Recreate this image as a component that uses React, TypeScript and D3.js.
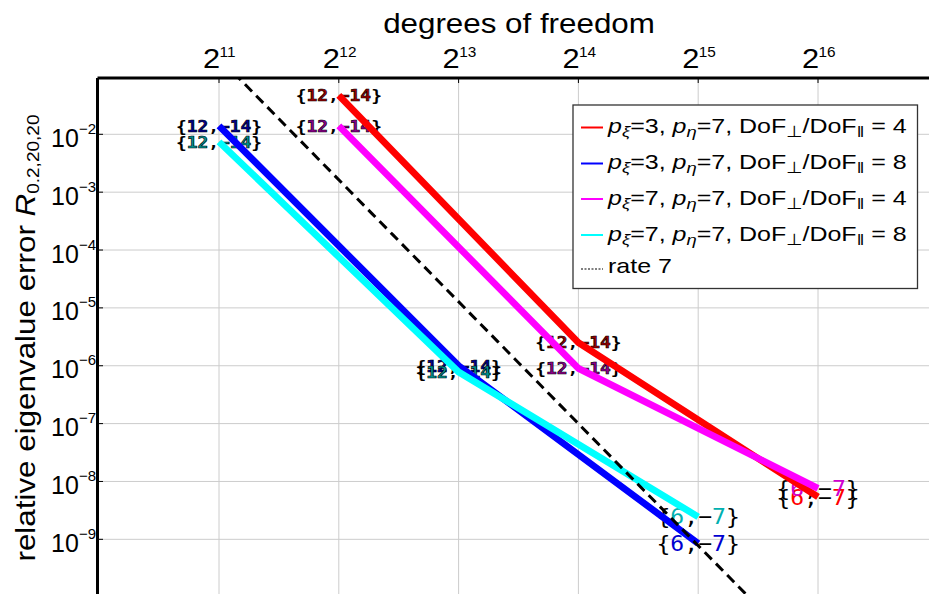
import React from "react";
import * as d3 from "d3";

// ---- data -------------------------------------------------------------
const SERIES_NAMES = ["red", "blue", "magenta", "cyan"];
const SERIES_COLORS = ["#ff0000", "#0000ff", "#ff00ff", "#00ffff"];
const LABEL_DARK = ["#990000", "#000090", "#900090", "#009090"];
const LABEL_BRIGHT = ["#ff0000", "#0000d0", "#d000d0", "#00b0b0"];

// degrees of freedom (as powers of two) for each series
const DOF_EXP = [
  [12, 14, 16],
  [11, 13, 15],
  [12, 14, 16],
  [11, 13, 15],
];
// relative eigenvalue error for each series
const ERRORS = [
  [4.7e-2, 2.5e-6, 5.4e-9],
  [1.4e-2, 1.0e-6, 8.5e-10],
  [1.4e-2, 9.0e-7, 7.6e-9],
  [7.4e-3, 7.8e-7, 2.45e-9],
];
// point annotations
const POINT_LABELS = [
  ["{12,−14}", "{12,−14}", "{6,−7}"],
  ["{12,−14}", "{12,−14}", "{6,−7}"],
  ["{12,−14}", "{12,−14}", "{6,−7}"],
  ["{12,−14}", "{12,−14}", "{6,−7}"],
];
// legend parameters
const P_XI = [3, 3, 7, 7];
const P_ETA = [7, 7, 7, 7];
const DOF_RATIO = [4, 8, 4, 8];

// reference slope line: err = C * DoF^-7
const RATE_ORDER = 7;
const RATE_LOG10_C = 22.5;

const X_TICK_EXP = [11, 12, 13, 14, 15, 16];
const Y_TICK_EXP = [-2, -3, -4, -5, -6, -7, -8, -9];

// ---- layout -----------------------------------------------------------
const W = 929;
const H = 594;
const LEFT = 99;
const TOP = 78;
const SANS = "'Liberation Sans', Arial, sans-serif";
const MONO = "'DejaVu Sans Mono', monospace";
// the typeface used here runs slightly wide
const WIDE = 1.1;

const x = d3.scaleLog().base(2).domain([Math.pow(2, 10), Math.pow(2, 17)]).range([99.2, 937.8]);
const y = d3.scaleLog().domain([Math.pow(10, -9.945), Math.pow(10, -1.027)]).range([594, 78]);

const line = d3
  .line<[number, number]>()
  .x((d) => x(d[0]))
  .y((d) => y(d[1]));

function sup(n: number) {
  return n < 0 ? "−" + Math.abs(n) : String(n);
}

function PointLabel({ text, cx, cy, si, end }: { text: string; cx: number; cy: number; si: number; end: boolean }) {
  const chars = text.split("");
  const colored = (c: string) => (end ? /[0-9]/.test(c) : /[0-9−]/.test(c));
  return (
    <g transform={`translate(${cx},${cy}) scale(${end ? 1.1 : 1.12},1)`}>
      <text
        x={0}
        y={0}
        dy="0.36em"
        textAnchor="middle"
        fontFamily={MONO}
        fontSize={end ? 21 : 16}
        fontWeight={end ? 400 : 700}
      >
        {chars.map((c, i) =>
          colored(c) ? (
            <tspan
              key={i}
              fill={end ? LABEL_BRIGHT[si] : LABEL_DARK[si]}
              stroke={end ? "none" : "#000"}
              strokeWidth={end ? 0 : 0.6}
            >
              {c}
            </tspan>
          ) : (
            <tspan key={i} fill="#000">
              {c}
            </tspan>
          )
        )}
      </text>
    </g>
  );
}

export default function App() {
  const xTicks = X_TICK_EXP.map((e) => Math.pow(2, e));
  const yTicks = Y_TICK_EXP.map((e) => Math.pow(10, e));
  const [xd0, xd1] = x.domain();
  const rateFn = (d: number) => Math.pow(10, RATE_LOG10_C - RATE_ORDER * Math.log10(d));
  const rateData: [number, number][] = d3.range(0, 41).map((i) => {
    const d = xd0 * Math.pow(xd1 / xd0, i / 40);
    return [d, rateFn(d)];
  });

  const legendX = 573;
  const legendY = 105;
  const legendRows = [127.5, 163.5, 199, 235, 269];

  return (
    <svg
      width={W}
      height={H}
      style={{ position: "absolute", left: 0, top: 0, background: "#fff" }}
      xmlns="http://www.w3.org/2000/svg"
    >
      <defs>
        <clipPath id="plot-area">
          <rect x={LEFT} y={TOP} width={W - LEFT} height={H - TOP} />
        </clipPath>
      </defs>
      <rect x={0} y={0} width={W} height={H} fill="#fff" />

      {/* grid */}
      <g stroke="#cccccc" strokeWidth={1}>
        {xTicks.map((t) => (
          <line key={t} x1={x(t)} x2={x(t)} y1={TOP} y2={H} />
        ))}
        {yTicks.map((t) => (
          <line key={t} x1={LEFT} x2={W} y1={y(t)} y2={y(t)} />
        ))}
      </g>

      {/* point annotations */}
      <g clipPath="url(#plot-area)">
        {ERRORS.map((errs, si) =>
          errs.map((e, pi) => (
            <PointLabel
              key={si + "-" + pi}
              text={POINT_LABELS[si][pi]}
              cx={x(Math.pow(2, DOF_EXP[si][pi]))}
              cy={y(e)}
              si={si}
              end={pi === errs.length - 1}
            />
          ))
        )}
      </g>

      {/* series */}
      <g clipPath="url(#plot-area)" fill="none">
        {ERRORS.map((errs, si) => (
          <path
            key={SERIES_NAMES[si]}
            d={line(errs.map((e, pi) => [Math.pow(2, DOF_EXP[si][pi]), e]))!}
            stroke={SERIES_COLORS[si]}
            strokeWidth={6.8}
            strokeLinejoin="round"
          />
        ))}
        <path d={line(rateData)!} stroke="#000" strokeWidth={3} strokeDasharray="10,6" />
      </g>

      {/* axes */}
      <line x1={LEFT - 1.5} x2={W} y1={TOP} y2={TOP} stroke="#000" strokeWidth={3} />
      <line x1={LEFT - 1.5} x2={LEFT - 1.5} y1={TOP} y2={H} stroke="#000" strokeWidth={3} />
      <g stroke="#000" strokeWidth={1}>
        {xTicks.map((t) => (
          <line key={t} x1={x(t)} x2={x(t)} y1={TOP} y2={TOP + 5} />
        ))}
        {yTicks.map((t) => (
          <line key={t} x1={LEFT} x2={LEFT + 4} y1={y(t)} y2={y(t)} />
        ))}
      </g>

      {/* x tick labels */}
      <g fontFamily={SANS} fill="#000">
        {X_TICK_EXP.map((e) => (
          <g key={e} transform={`translate(${x(Math.pow(2, e))},0) scale(${WIDE},1)`}>
            <text x={1} y={68.5} fontSize={28} textAnchor="end">
              2
            </text>
            <text x={0.5} y={57} fontSize={14}>
              {e}
            </text>
          </g>
        ))}
      </g>

      {/* y tick labels */}
      <g fontFamily={SANS} fill="#000">
        {Y_TICK_EXP.map((e) => {
          const ty = y(Math.pow(10, e));
          return (
            <text key={e} x={96} y={ty + 12.5} textAnchor="end" fontSize={25}>
              10
              <tspan fontSize={15} dy={-13}>
                {sup(e)}
              </tspan>
            </text>
          );
        })}
      </g>

      {/* titles */}
      <g transform={`translate(519,33) scale(${WIDE},1)`}>
        <text x={0} y={0} textAnchor="middle" fontFamily={SANS} fontSize={28.5}>
          degrees of freedom
        </text>
      </g>
      <g transform={`translate(35,338) rotate(-90) scale(1.12,1)`}>
        <text x={0} y={0} textAnchor="middle" fontFamily={SANS} fontSize={28}>
          relative eigenvalue error{" "}
          <tspan fontStyle="italic">R</tspan>
          <tspan fontSize={17} dy={4}>
            0.2,20,20
          </tspan>
        </text>
      </g>

      {/* legend */}
      <g>
        <rect
          x={legendX}
          y={legendY}
          width={344.5}
          height={183.5}
          fill="#fff"
          stroke="#333"
          strokeWidth={1.3}
        />
        {SERIES_NAMES.map((n, si) => (
          <g key={n}>
            <line
              x1={581}
              x2={603}
              y1={legendRows[si]}
              y2={legendRows[si]}
              stroke={SERIES_COLORS[si]}
              strokeWidth={2}
            />
            <g transform={`translate(608,${legendRows[si] + 5.5}) scale(1.19,1)`}>
              <text x={0} y={0} fontFamily={SANS} fontSize={21} fill="#000">
                <tspan fontStyle="italic">p</tspan>
                <tspan fontSize={15.5} fontStyle="italic" dy={4}>
                  ξ
                </tspan>
                <tspan dy={-4}>{"=" + P_XI[si] + ", "}</tspan>
                <tspan fontStyle="italic">p</tspan>
                <tspan fontSize={15.5} fontStyle="italic" dy={4}>
                  η
                </tspan>
                <tspan dy={-4}>{"=" + P_ETA[si] + ", DoF"}</tspan>
                <tspan fontSize={15.5} dy={4}>
                  ⊥
                </tspan>
                <tspan dy={-4}>/DoF</tspan>
                <tspan fontSize={15.5} dy={4}>
                  ‖
                </tspan>
                <tspan dy={-4}>{" = " + DOF_RATIO[si]}</tspan>
              </text>
            </g>
          </g>
        ))}
        <line
          x1={581}
          x2={603}
          y1={legendRows[4]}
          y2={legendRows[4]}
          stroke="#555"
          strokeWidth={1.5}
          strokeDasharray="2,1.5"
        />
        <g transform={`translate(608,${legendRows[4] + 3.5}) scale(1.19,1)`}>
          <text x={0} y={0} fontFamily={SANS} fontSize={21} fill="#000">
            {"rate " + RATE_ORDER}
          </text>
        </g>
      </g>
    </svg>
  );
}
